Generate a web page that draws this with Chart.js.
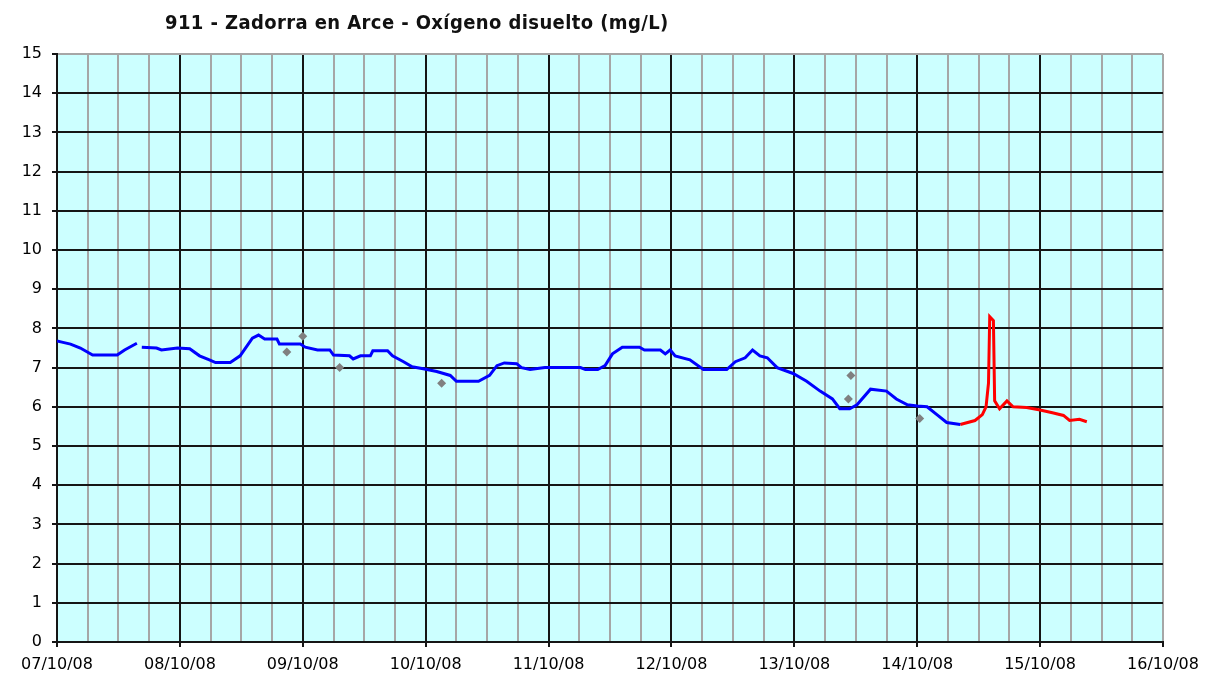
<!DOCTYPE html>
<html>
<head>
<meta charset="utf-8">
<script src="https://cdn.jsdelivr.net/npm/chart.js@4"></script>
<style>
  html, body { margin: 0; padding: 0; background: #fff; }
  #wrap { position: relative; width: 1221px; height: 679px; }
  #titulo {
    position: absolute; left: 165px; top: 12px; line-height: 20px;
    font-family: "DejaVu Sans Condensed", "DejaVu Sans", sans-serif;
    font-stretch: condensed; font-size: 20px; font-weight: bold;
    letter-spacing: 0.4px; color: #111; white-space: nowrap;
  }
</style>
</head>
<body>
<div id="wrap">
  <div id="titulo">911 - Zadorra en Arce - Oxígeno disuelto (mg/L)</div>
  <canvas id="grafico" width="1221" height="679"></canvas>
</div>
<script>
// =====================
// DATOS (x en días desde 07/10/08)
// =====================
const fechas = ["07/10/08", "08/10/08", "09/10/08", "10/10/08", "11/10/08",
                "12/10/08", "13/10/08", "14/10/08", "15/10/08", "16/10/08"];

const diasAzul = [0.00, 0.04, 0.11, 0.19, 0.29, 0.49, 0.55, 0.65, 0.67, 0.69, 0.81, 0.85, 0.98,
  1.08, 1.16, 1.24, 1.29, 1.41, 1.49, 1.59, 1.64, 1.69, 1.79, 1.81, 1.98,
  2.02, 2.12, 2.22, 2.25, 2.38, 2.41, 2.47, 2.55, 2.57, 2.69, 2.73, 2.82, 2.89, 2.98,
  3.09, 3.20, 3.25, 3.43, 3.52, 3.58, 3.64, 3.74, 3.78, 3.85, 3.97,
  4.26, 4.30, 4.40, 4.46, 4.52, 4.60, 4.74, 4.78, 4.91, 4.95, 4.99,
  5.03, 5.15, 5.26, 5.45, 5.52, 5.60, 5.66, 5.72, 5.78, 5.86, 5.99,
  6.10, 6.21, 6.31, 6.37, 6.45, 6.51, 6.62, 6.75, 6.83, 6.92,
  7.00, 7.08, 7.16, 7.24, 7.35];
const valoresAzul = [7.68, 7.65, 7.6, 7.5, 7.32, 7.32, 7.45, 7.62, null, 7.52, 7.5, 7.45, 7.5,
  7.48, 7.3, 7.2, 7.13, 7.13, 7.3, 7.75, 7.83, 7.73, 7.73, 7.6, 7.6,
  7.52, 7.45, 7.45, 7.32, 7.3, 7.22, 7.3, 7.3, 7.43, 7.43, 7.3, 7.15, 7.02, 6.97,
  6.9, 6.8, 6.65, 6.65, 6.8, 7.05, 7.12, 7.1, 7.0, 6.95, 7.0,
  7.0, 6.95, 6.95, 7.05, 7.35, 7.52, 7.52, 7.45, 7.45, 7.35, 7.45,
  7.3, 7.2, 6.95, 6.95, 7.15, 7.25, 7.45, 7.3, 7.25, 7.0, 6.85,
  6.65, 6.4, 6.2, 5.95, 5.95, 6.05, 6.45, 6.4, 6.2, 6.05,
  6.02, 6.0, 5.8, 5.6, 5.55];

const diasRojo = [7.35, 7.47, 7.53, 7.56, 7.58, 7.59, 7.62, 7.63, 7.67, 7.73, 7.78, 7.89,
  8.00, 8.10, 8.19, 8.24, 8.32, 8.38];
const valoresRojo = [5.55, 5.65, 5.8, 6.0, 6.6, 8.3, 8.2, 6.15, 5.95, 6.15, 6.0, 5.98,
  5.92, 5.85, 5.78, 5.65, 5.68, 5.62];

const diasPuntos = [1.87, 2.00, 2.30, 3.13, 6.46, 6.44, 7.02];
const valoresPuntos = [7.4, 7.8, 7.0, 6.6, 6.8, 6.2, 5.7];

// =====================
// HELPERS
// =====================
function pares(xs, ys) {
  return xs.map((x, i) => ({ x: x, y: ys[i] }));
}

function esEntero(v) {
  return Math.abs(v - Math.round(v)) < 1e-6;
}

// fondo celeste del área de trazado
const fondoArea = {
  id: "fondoArea",
  beforeDraw(chart) {
    const a = chart.chartArea;
    const ctx = chart.ctx;
    ctx.save();
    ctx.fillStyle = "#CCFFFF";
    ctx.fillRect(a.left, a.top, a.right - a.left, a.bottom - a.top);
    ctx.restore();
  }
};

const fuente = { family: "'DejaVu Sans', sans-serif", size: 16 };
const GRIS = "#A6A6A6";
const NEGRO = "#151515";

// =====================
// GRÁFICO
// =====================
new Chart(document.getElementById("grafico"), {
  type: "line",
  data: {
    datasets: [
      {
        data: pares(diasAzul, valoresAzul),
        borderColor: "#0000FF",
        borderWidth: 3,
        pointRadius: 0,
        spanGaps: false,
        tension: 0
      },
      {
        data: pares(diasRojo, valoresRojo),
        borderColor: "#FF0000",
        borderWidth: 3,
        pointRadius: 0,
        tension: 0
      },
      {
        data: pares(diasPuntos, valoresPuntos),
        showLine: false,
        pointStyle: "rectRot",
        pointRadius: 4.5,
        pointBackgroundColor: "#808080",
        pointBorderColor: "#808080",
        pointBorderWidth: 0
      }
    ]
  },
  options: {
    responsive: false,
    animation: false,
    layout: { padding: { top: 54, right: 58, left: 0, bottom: 0 } },
    plugins: {
      legend: { display: false },
      tooltip: { enabled: false }
    },
    scales: {
      x: {
        type: "linear",
        min: 0,
        max: 9,
        afterFit(s) { s.height = 37; },
        ticks: {
          stepSize: 0.25,
          autoSkip: false,
          maxRotation: 0,
          color: "#000",
          font: fuente,
          padding: 8,
          callback: v => esEntero(v) ? fechas[Math.round(v)] : ""
        },
        grid: {
          color: c => esEntero(c.tick.value) && c.tick.value < 9 ? NEGRO : GRIS,
          tickColor: c => esEntero(c.tick.value) ? NEGRO : "rgba(0,0,0,0)",
          tickLength: 5,
          lineWidth: 2
        },
        border: { color: NEGRO, width: 2 }
      },
      y: {
        min: 0,
        max: 15,
        afterFit(s) { s.width = 57; },
        ticks: {
          stepSize: 1,
          color: "#000",
          font: fuente,
          padding: 10
        },
        grid: {
          color: c => c.tick.value === 15 ? GRIS : NEGRO,
          tickColor: NEGRO,
          tickLength: 5,
          lineWidth: 2
        },
        border: { color: NEGRO, width: 2 }
      }
    }
  },
  plugins: [fondoArea]
});
</script>
</body>
</html>
